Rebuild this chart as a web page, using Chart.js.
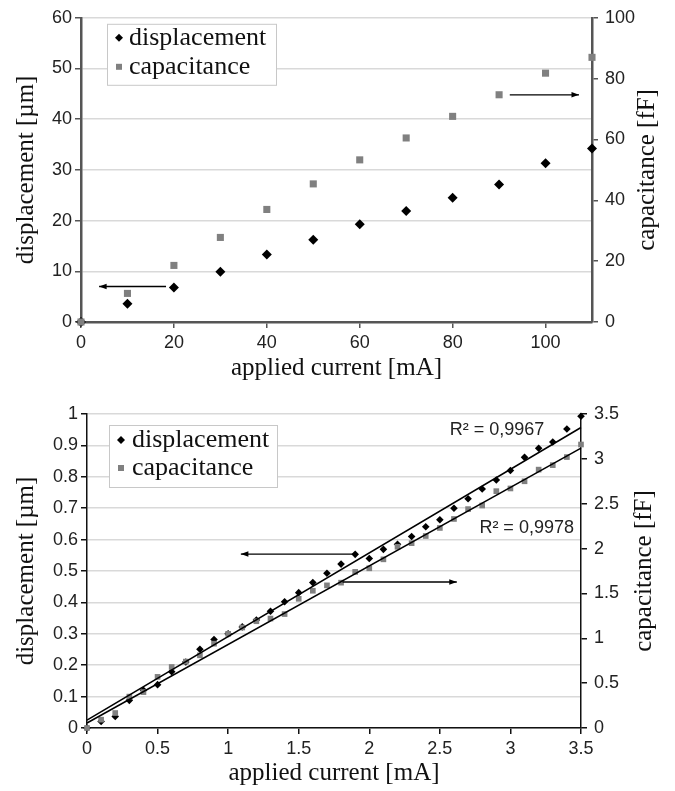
<!DOCTYPE html>
<html lang="en">
<head>
    <meta charset="UTF-8" />
    <title>Displacement and capacitance vs. applied current</title>
    <style>
        body { margin: 0; background: #fff; }
        .wrap { position: absolute; left: 0; width: 675px; }
        #top-wrap { top: 0; height: 390px; }
        #bottom-wrap { top: 390px; height: 401px; }
    </style>
</head>
<body>
    <div class="wrap" id="top-wrap"><canvas id="chart-top"></canvas></div>
    <div class="wrap" id="bottom-wrap"><canvas id="chart-bottom"></canvas></div>

    <script src="https://cdn.jsdelivr.net/npm/chart.js"></script>
    <script>
        // top chart: 0 - 110 mA
        const currentTop = [0, 10, 20, 30, 40, 50, 60, 70, 80, 90, 100, 110];
        const displacementTop = [0, 3.6, 6.8, 9.9, 13.3, 16.2, 19.3, 21.9, 24.5, 27.1, 31.3, 34.2];
        const capacitanceTop = [0, 9.4, 18.6, 27.8, 37.0, 45.4, 53.3, 60.5, 67.6, 74.7, 81.8, 87.0];
        const xTicksTop = [0, 20, 40, 60, 80, 100];
        const yTicksTop = [0, 10, 20, 30, 40, 50, 60];
        const y2TicksTop = [0, 20, 40, 60, 80, 100];

        // bottom chart: 0 - 3.5 mA
        const currentBottom = [0, 0.1, 0.2, 0.3, 0.4, 0.5, 0.6, 0.7, 0.8, 0.9, 1.0, 1.1, 1.2, 1.3, 1.4, 1.5, 1.6, 1.7,
            1.8, 1.9, 2.0, 2.1, 2.2, 2.3, 2.4, 2.5, 2.6, 2.7, 2.8, 2.9, 3.0, 3.1, 3.2, 3.3, 3.4, 3.5];
        const displacementBottom = [0, 0.021, 0.037, 0.088, 0.12, 0.138, 0.179, 0.21, 0.251, 0.282, 0.30, 0.322,
            0.344, 0.372, 0.402, 0.431, 0.463, 0.493, 0.522, 0.553, 0.54, 0.569, 0.585, 0.61, 0.641, 0.663, 0.70,
            0.73, 0.761, 0.79, 0.82, 0.862, 0.891, 0.911, 0.952, 0.993];
        const capacitanceBottom = [0, 0.093, 0.167, 0.35, 0.40, 0.57, 0.68, 0.74, 0.81, 0.94, 1.05, 1.12, 1.19,
            1.22, 1.27, 1.44, 1.53, 1.59, 1.62, 1.74, 1.78, 1.88, 2.02, 2.06, 2.14, 2.23, 2.33, 2.44, 2.48, 2.64,
            2.67, 2.75, 2.88, 2.93, 3.02, 3.16];
        const xTicksBottom = [0, 0.5, 1, 1.5, 2, 2.5, 3, 3.5];
        const yTicksBottom = [0, 0.1, 0.2, 0.3, 0.4, 0.5, 0.6, 0.7, 0.8, 0.9, 1];
        const y2TicksBottom = [0, 0.5, 1, 1.5, 2, 2.5, 3, 3.5];

        // linear trend lines (ends)
        const fitX = [0, 3.5];
        const displacementFit = [0.025, 0.957];
        const capacitanceFit = [0.056, 3.12];
        const rSquared = ["R² = 0,9967", "R² = 0,9978"];

        const GRAY = "#808080";
        const tickFont = { family: "'Liberation Sans', Arial, sans-serif", size: 18 };
        const titleFont = { family: "'Liberation Serif', 'Times New Roman', serif", size: 25 };

        const pts = (xs, ys) => xs.map((x, i) => ({ x: x, y: ys[i] }));
        const fixTicks = (arr) => (scale) => { scale.ticks = arr.map(v => ({ value: v })); };

        function drawArrow(ctx, x1, y1, x2, y2) {
            const a = Math.atan2(y2 - y1, x2 - x1);
            ctx.beginPath();
            ctx.moveTo(x1, y1);
            ctx.lineTo(x2, y2);
            ctx.stroke();
            ctx.beginPath();
            ctx.moveTo(x2, y2);
            ctx.lineTo(x2 - 8 * Math.cos(a - 0.35), y2 - 8 * Math.sin(a - 0.35));
            ctx.lineTo(x2 - 8 * Math.cos(a + 0.35), y2 - 8 * Math.sin(a + 0.35));
            ctx.closePath();
            ctx.fill();
        }

        // legend box, arrows, R² notes and the right axis title (reads bottom-to-top like Excel)
        const extras = {
            id: "extras",
            afterDatasetsDraw(chart, args, opts) {
                const ctx = chart.ctx;
                const area = chart.chartArea;
                const xs = chart.scales.x, ys = chart.scales.y;
                ctx.save();

                ctx.strokeStyle = "#000";
                ctx.fillStyle = "#000";
                ctx.lineWidth = 1.3;
                (opts.arrows || []).forEach(a => {
                    drawArrow(ctx, xs.getPixelForValue(a[0]), ys.getPixelForValue(a[1]),
                        xs.getPixelForValue(a[2]), ys.getPixelForValue(a[1]));
                });

                ctx.font = "18px 'Liberation Sans', Arial, sans-serif";
                ctx.textBaseline = "middle";
                ctx.textAlign = "left";
                ctx.fillStyle = "#222";
                (opts.notes || []).forEach(n => {
                    ctx.fillText(n.text, xs.getPixelForValue(n.x), ys.getPixelForValue(n.y));
                });

                const lg = opts.legend;
                const bx = area.left + lg.dx, by = area.top + lg.dy;
                ctx.fillStyle = "#fff";
                ctx.fillRect(bx, by, lg.w, lg.h);
                ctx.strokeStyle = "#c8c8c8";
                ctx.lineWidth = 1;
                ctx.strokeRect(bx + 0.5, by + 0.5, lg.w, lg.h);

                const mx = bx + lg.markerX;
                const r1 = by + lg.row1, r2 = by + lg.row2;
                ctx.fillStyle = "#000";
                ctx.beginPath();
                ctx.moveTo(mx, r1 - 4);
                ctx.lineTo(mx + 4, r1);
                ctx.lineTo(mx, r1 + 4);
                ctx.lineTo(mx - 4, r1);
                ctx.closePath();
                ctx.fill();
                ctx.fillStyle = GRAY;
                ctx.fillRect(mx - 3, r2 - 3, 6, 6);

                ctx.fillStyle = "#111";
                ctx.font = "26px 'Liberation Serif', 'Times New Roman', serif";
                ctx.fillText("displacement", bx + lg.textX, r1);
                ctx.fillText("capacitance", bx + lg.textX, r2);

                // right axis title
                ctx.font = "25px 'Liberation Serif', 'Times New Roman', serif";
                ctx.textAlign = "center";
                ctx.translate(chart.width - opts.rightTitleInset, (area.top + area.bottom) / 2);
                ctx.rotate(-Math.PI / 2);
                ctx.fillText("capacitance [fF]", 0, 0);
                ctx.restore();
            }
        };

        function axisX(min, max, ticks, height, color, width, titlePad) {
            return {
                type: "linear", min: min, max: max,
                afterBuildTicks: fixTicks(ticks),
                afterFit: (s) => { s.height = height; },
                grid: { drawOnChartArea: false, tickLength: 6, color: color, lineWidth: 1.5 },
                border: { color: color, width: width },
                ticks: { font: tickFont, color: "#222", padding: 4, maxRotation: 0, callback: (v) => String(v) },
                title: { display: true, text: "applied current [mA]", font: titleFont, color: "#111",
                    padding: { top: 0, bottom: titlePad } }
            };
        }

        function axisY(pos, max, ticks, width, color, bw, title, titlePad, gridOn) {
            return {
                type: "linear", position: pos, min: 0, max: max,
                afterBuildTicks: fixTicks(ticks),
                afterFit: (s) => { s.width = width; },
                grid: { drawOnChartArea: gridOn, color: "#d9d9d9", lineWidth: 1.5, tickLength: 6,
                    tickColor: color, tickWidth: 1.5 },
                border: { color: color, width: bw },
                ticks: { font: tickFont, color: "#222", padding: pos === "left" ? 3 : 7, callback: (v) => String(v) },
                title: { display: title !== "", text: title, font: titleFont, color: "#111",
                    padding: { top: titlePad, bottom: 0 } }
            };
        }

        // top chart
        const axisTop = "#555";
        new Chart(document.getElementById("chart-top"), {
            type: "scatter",
            data: {
                datasets: [
                    {
                        label: "capacitance", data: pts(currentTop, capacitanceTop), yAxisID: "y2",
                        pointStyle: "rect", pointRadius: 5, backgroundColor: GRAY, borderWidth: 0, clip: false
                    },
                    {
                        label: "displacement", data: pts(currentTop, displacementTop), yAxisID: "y",
                        pointStyle: "rectRot", pointRadius: 5, backgroundColor: "#000", borderWidth: 0, clip: false
                    }
                ]
            },
            options: {
                responsive: true,
                maintainAspectRatio: false,
                animation: false,
                layout: { padding: { top: 13, left: 0, right: 0, bottom: 0 } },
                scales: {
                    x: axisX(0, 110, xTicksTop, 68, axisTop, 2.5, 7),
                    y: axisY("left", 60, yTicksTop, 81, axisTop, 2.5, "displacement [µm]", 11, true),
                    y2: axisY("right", 100, y2TicksTop, 83, axisTop, 2.5, "", 0, false)
                },
                plugins: {
                    legend: { display: false },
                    tooltip: { enabled: false },
                    extras: {
                        legend: { dx: 26, dy: 6, w: 169, h: 61, markerX: 12, textX: 22, row1: 14, row2: 43 },
                        arrows: [[18.3, 7.0, 3.9], [92.3, 44.8, 107.2]],
                        rightTitleInset: 28
                    }
                }
            },
            plugins: [extras]
        });

        // bottom chart
        const axisBottom = "#111";
        new Chart(document.getElementById("chart-bottom"), {
            type: "scatter",
            data: {
                datasets: [
                    {
                        type: "line", label: "displacement fit", data: pts(fitX, displacementFit), yAxisID: "y",
                        borderColor: "#000", borderWidth: 1.5, pointRadius: 0, fill: false, clip: false
                    },
                    {
                        type: "line", label: "capacitance fit", data: pts(fitX, capacitanceFit), yAxisID: "y2",
                        borderColor: "#000", borderWidth: 1.5, pointRadius: 0, fill: false, clip: false
                    },
                    {
                        label: "capacitance", data: pts(currentBottom, capacitanceBottom), yAxisID: "y2",
                        pointStyle: "rect", pointRadius: 4, backgroundColor: GRAY, borderWidth: 0, clip: false
                    },
                    {
                        label: "displacement", data: pts(currentBottom, displacementBottom), yAxisID: "y",
                        pointStyle: "rectRot", pointRadius: 3.8, backgroundColor: "#000", borderWidth: 0, clip: false
                    }
                ]
            },
            options: {
                responsive: true,
                maintainAspectRatio: false,
                animation: false,
                layout: { padding: { top: 24, left: 0, right: 0, bottom: 0 } },
                scales: {
                    x: axisX(0, 3.5, xTicksBottom, 63, axisBottom, 1.5, 3),
                    y: axisY("left", 1, yTicksBottom, 87, axisBottom, 1.5, "displacement [µm]", 11, true),
                    y2: axisY("right", 3.5, y2TicksBottom, 94, axisBottom, 1.5, "", 0, false)
                },
                plugins: {
                    legend: { display: false },
                    tooltip: { enabled: false },
                    extras: {
                        legend: { dx: 22, dy: 11, w: 168, h: 62, markerX: 12, textX: 23, row1: 15, row2: 43 },
                        arrows: [[1.89, 0.554, 1.09], [1.81, 0.465, 2.62]],
                        notes: [
                            { text: rSquared[0], x: 2.57, y: 0.95 },
                            { text: rSquared[1], x: 2.78, y: 0.637 }
                        ],
                        rightTitleInset: 31
                    }
                }
            },
            plugins: [extras]
        });
    </script>
</body>
</html>
